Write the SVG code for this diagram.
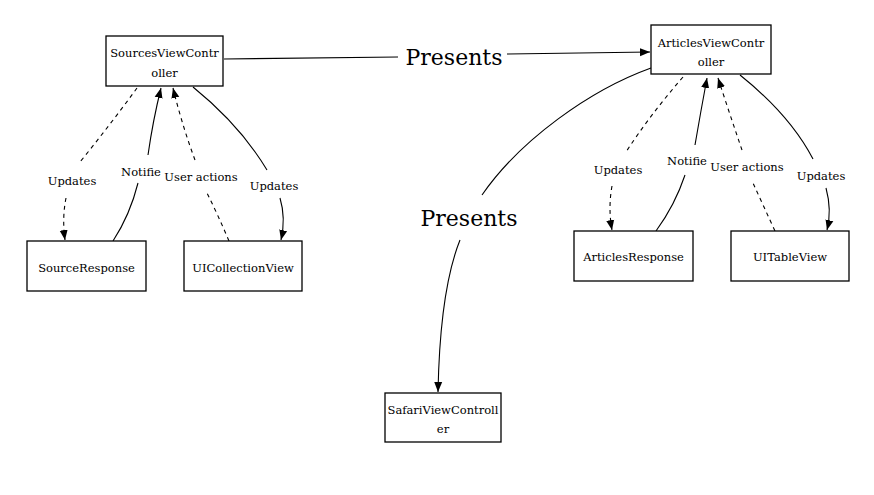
<svg xmlns="http://www.w3.org/2000/svg" width="874" height="495" viewBox="0 0 874 495">
<style>
.box{fill:#fff;stroke:#000;stroke-width:1.3}
.t{font-family:"DejaVu Serif","Liberation Serif",serif;font-size:11.5px;fill:#000;text-anchor:middle;dominant-baseline:central}
.big{font-family:"DejaVu Serif","Liberation Serif",serif;font-size:22px;fill:#000;text-anchor:middle;dominant-baseline:central}
.e{fill:none;stroke:#000;stroke-width:1.1}
.d{stroke-dasharray:4 4}
</style>
<defs>
<marker id="ah" viewBox="0 0 10 10" refX="10" refY="5" markerWidth="10" markerHeight="10" markerUnits="userSpaceOnUse" orient="auto">
<path d="M0,1 L10,5 L0,9 Z" fill="#000"/>
</marker>
</defs>
<rect width="874" height="495" fill="#fff"/>
<g id="connectors">
<path class="e" d="M224,59 L398,57"/>
<path class="e" d="M507,54 L650,52" marker-end="url(#ah)"/>
<path class="e" d="M651,68 C590,90 520,140 482,195"/>
<path class="e" d="M460,240 Q440,290 438,392" marker-end="url(#ah)"/>
<path class="e d" d="M137,88 Q110,125 80,162"/>
<path class="e d" d="M66,198 Q62,218 65,240" marker-end="url(#ah)"/>
<path class="e" d="M113,241 Q130,215 138,183"/>
<path class="e" d="M148,155 Q153,120 161,88" marker-end="url(#ah)"/>
<path class="e d" d="M229,241 Q218,215 207,193"/>
<path class="e d" d="M195,160 Q182,125 173,88" marker-end="url(#ah)"/>
<path class="e" d="M193,87 Q240,125 267,170"/>
<path class="e" d="M280,198 Q286,218 281,240" marker-end="url(#ah)"/>
<path class="e d" d="M683,77 Q650,115 626,152"/>
<path class="e d" d="M612,186 Q608,208 612,230" marker-end="url(#ah)"/>
<path class="e" d="M656,231 Q675,205 685,175"/>
<path class="e" d="M695,145 Q701,110 707,78" marker-end="url(#ah)"/>
<path class="e d" d="M775,231 Q763,205 753,183"/>
<path class="e d" d="M742,150 Q730,115 718,78" marker-end="url(#ah)"/>
<path class="e" d="M740,75 Q790,115 813,159"/>
<path class="e" d="M826,188 Q832,210 827,230" marker-end="url(#ah)"/>
<text class="big" x="454" y="57">Presents</text>
<text class="big" x="469" y="218">Presents</text>
<text class="t" x="72" y="181">Updates</text>
<text class="t" x="141" y="172">Notifie</text>
<text class="t" x="201" y="177">User actions</text>
<text class="t" x="274" y="186">Updates</text>
<text class="t" x="618" y="170">Updates</text>
<text class="t" x="687" y="161">Notifie</text>
<text class="t" x="747" y="167">User actions</text>
<text class="t" x="821" y="176">Updates</text>
</g>
<g id="SourcesViewController"><rect class="box" x="106" y="36" width="117" height="50"/><text class="t" x="164.5" y="53">SourcesViewContr</text><text class="t" x="164.5" y="73">oller</text></g>
<g id="ArticlesViewController"><rect class="box" x="651" y="25" width="120" height="49"/><text class="t" x="711" y="43">ArticlesViewContr</text><text class="t" x="711" y="62">oller</text></g>
<g id="SourceResponse"><rect class="box" x="27" y="241" width="119" height="50"/><text class="t" x="86.5" y="268">SourceResponse</text></g>
<g id="UICollectionView"><rect class="box" x="184" y="241" width="118" height="50"/><text class="t" x="243" y="268">UICollectionView</text></g>
<g id="ArticlesResponse"><rect class="box" x="574" y="231" width="119" height="50"/><text class="t" x="633.5" y="257">ArticlesResponse</text></g>
<g id="UITableView"><rect class="box" x="731" y="231" width="118" height="50"/><text class="t" x="790" y="257">UITableView</text></g>
<g id="SafariViewController"><rect class="box" x="385" y="393" width="116" height="49"/><text class="t" x="443" y="410">SafariViewControll</text><text class="t" x="443" y="429">er</text></g>
</svg>
